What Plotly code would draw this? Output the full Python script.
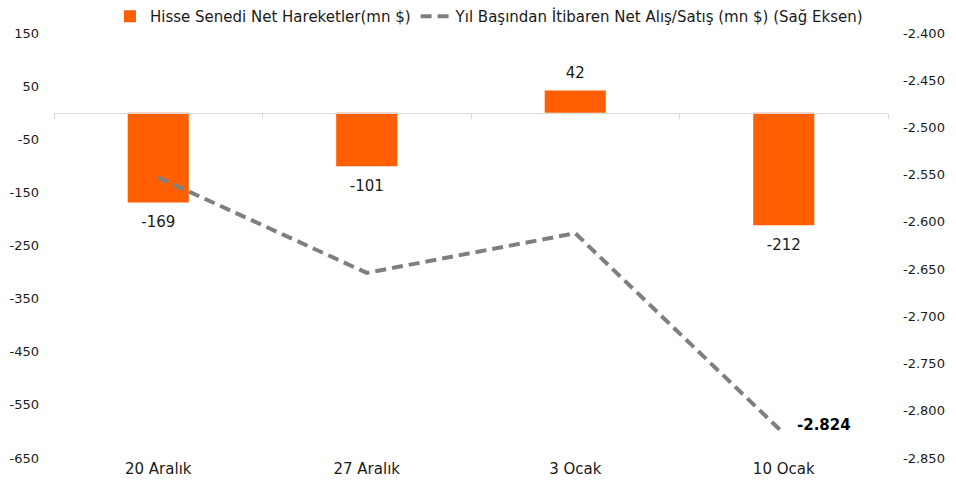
import plotly.graph_objects as go

categories = ["20 Aralık", "27 Aralık", "3 Ocak", "10 Ocak"]
net_flows = [-169, -101, 42, -212]
ytd_cumulative = [-2553, -2654, -2612, -2824]
left_ticks = [150, 50, -50, -150, -250, -350, -450, -550, -650]
right_ticks = [-2400, -2450, -2500, -2550, -2600, -2650, -2700, -2750, -2800, -2850]

bar_name = "Hisse Senedi Net Hareketler(mn $)"
line_name = "Yıl Başından İtibaren Net Alış/Satış (mn $) (Sağ Eksen)"

FONT = "DejaVu Sans"
y_range = [-650, 150]
y2_range = [-2850, -2400]
dom = [0.0, 1.0]


def tr_fmt(v):
    s = f"{abs(v):,}".replace(",", ".")
    return ("-" if v < 0 else "") + s


fig = go.Figure()
fig.add_trace(go.Bar(
    x=categories, y=net_flows, name=bar_name,
    marker=dict(color="#FF5F00", line=dict(width=0)),
    hoverinfo="x+y",
))
fig.add_trace(go.Scatter(
    x=categories, y=ytd_cumulative, name=line_name, yaxis="y2",
    mode="lines",
    line=dict(color="#7F7F7F", width=4, dash="11px,6px"),
    cliponaxis=False,
))
# bar value labels (offset from the bar ends via an invisible marker)
fig.add_trace(go.Scatter(
    x=categories, y=net_flows, mode="markers+text",
    text=[str(v) for v in net_flows],
    textposition=["bottom center" if v < 0 else "top center" for v in net_flows],
    marker=dict(size=[20 if v < 0 else 12 for v in net_flows], opacity=0),
    showlegend=False, hoverinfo="skip",
    textfont=dict(size=15, color="#1a1a1a", family=FONT), cliponaxis=False,
))
# invisible helper trace for the zero-level axis line
fig.add_trace(go.Scatter(x=categories, y=[0] * len(categories), xaxis="x2",
                         mode="markers", marker=dict(opacity=0), showlegend=False,
                         hoverinfo="skip"))

zero_pos = dom[0] + (0 - y_range[0]) / (y_range[1] - y_range[0]) * (dom[1] - dom[0])

fig.update_layout(
    width=956, height=495,
    margin=dict(l=54, r=68, t=33, b=37, autoexpand=False),
    paper_bgcolor="white", plot_bgcolor="white",
    separators=",.",
    font=dict(family=FONT, size=13, color="#1a1a1a"),
    bargap=0.707,
    showlegend=True,
    legend=dict(orientation="h", xref="container", yref="container",
                x=0.512, xanchor="center", y=1.0, yanchor="top",
                font=dict(size=15, family=FONT, color="#1a1a1a"),
                traceorder="normal", itemwidth=30, tracegroupgap=0),
    annotations=[dict(
        x=categories[-1], y=ytd_cumulative[-1], xref="x", yref="y2",
        text="<b>" + tr_fmt(ytd_cumulative[-1]) + "</b>",
        showarrow=False, xanchor="left", yanchor="middle", xshift=11, yshift=8,
        font=dict(size=15, family=FONT, color="#000000"),
    )],
    xaxis=dict(type="category", categoryorder="array", categoryarray=categories,
               showline=False, showgrid=False, ticks="", zeroline=False,
               tickfont=dict(size=15, family=FONT)),
    xaxis2=dict(type="category", categoryorder="array", categoryarray=categories,
                overlaying="x", anchor="free", position=zero_pos, matches="x",
                showline=True, linecolor="#D9D9D9", linewidth=1.3,
                ticks="outside", tickson="boundaries", ticklen=5, tickcolor="#D9D9D9",
                showticklabels=False, showgrid=False, zeroline=False),
    yaxis=dict(range=y_range, tickvals=left_ticks,
               ticktext=[tr_fmt(v) for v in left_ticks],
               showgrid=False, zeroline=False,
               showline=False, ticks="", ticklabelstandoff=14,
               tickfont=dict(size=13, family=FONT), domain=dom),
    yaxis2=dict(range=y2_range, tickvals=right_ticks,
                ticktext=[tr_fmt(v) for v in right_ticks],
                overlaying="y", side="right",
                showgrid=False, zeroline=False, showline=False, ticks="",
                ticklabelstandoff=14,
                tickfont=dict(size=13, family=FONT)),
)

fig.write_html("out.html", config={"displayModeBar": False},
               post_script="document.body.style.margin='0';document.body.style.padding='0';")
